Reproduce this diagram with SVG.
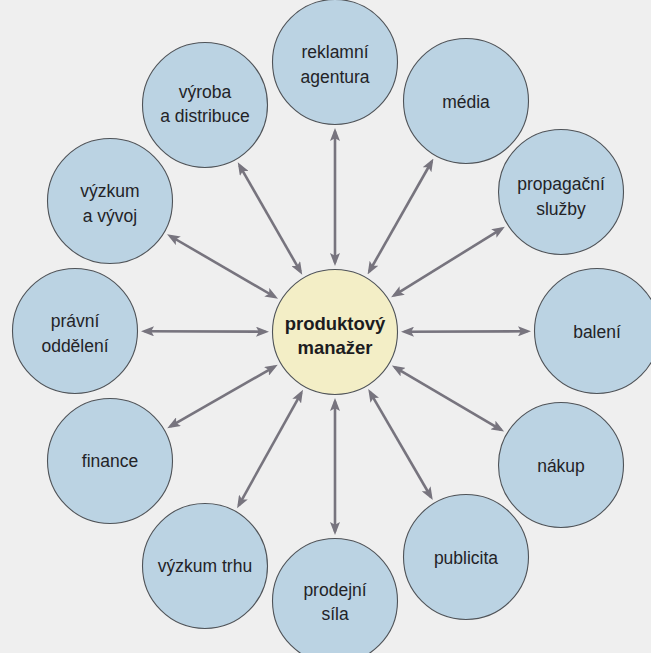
<svg xmlns="http://www.w3.org/2000/svg" width="651" height="653" viewBox="0 0 651 653">
  <defs>
    <style>
      .bg { fill: #efefef; }
      .dept { fill: #bbd3e3; stroke: #4f5358; stroke-width: 1.1; }
      .hub { fill: #f3eec6; stroke: #4f5358; stroke-width: 1.1; }
      .lbl { font-family: "Liberation Sans", Arial, sans-serif; font-size: 17.5px; fill: #232327; text-anchor: middle; }
      .hub-lbl { font-family: "Liberation Sans", Arial, sans-serif; font-size: 18.5px; font-weight: bold; fill: #1c1c1f; text-anchor: middle; }
      .link { stroke: #77747e; stroke-width: 2.6; fill: none; marker-start: url(#head); marker-end: url(#head); }
    </style>
    <marker id="head" viewBox="0 0 13 10" refX="9.5" refY="5" markerWidth="13" markerHeight="10" markerUnits="userSpaceOnUse" orient="auto-start-reverse">
      <path d="M0,0 L13,5 L0,10 L2.8,5 Z" fill="#77747e"/>
    </marker>
  </defs>

  <rect class="bg" x="0" y="0" width="651" height="653"/>

  <!-- connectors: hub to each department, arrowheads at both ends -->
  <g id="connectors">
    <line class="link" x1="335" y1="262.5" x2="335" y2="131.5"/>
    <line class="link" x1="369.3" y1="271.5" x2="431.7" y2="161.5"/>
    <line class="link" x1="394.1" y1="295.4" x2="501.9" y2="228.6"/>
    <line class="link" x1="404.5" y1="331.7" x2="527.5" y2="331.3"/>
    <line class="link" x1="394.9" y1="367.3" x2="501.1" y2="429.8"/>
    <line class="link" x1="370.0" y1="392.1" x2="431.0" y2="497.0"/>
    <line class="link" x1="335" y1="401.5" x2="335" y2="531.5"/>
    <line class="link" x1="301.3" y1="392.8" x2="238.8" y2="505.3"/>
    <line class="link" x1="274.7" y1="366.6" x2="170.3" y2="426.4"/>
    <line class="link" x1="265.5" y1="331.7" x2="144.5" y2="331.3"/>
    <line class="link" x1="275.0" y1="297.0" x2="170.1" y2="236.0"/>
    <line class="link" x1="300.5" y1="271.7" x2="239.5" y2="165.3"/>
  </g>

  <g id="produktovy-manazer">
    <circle class="hub" cx="335" cy="332" r="62.5"/>
    <text class="hub-lbl" x="335" y="330">produktový</text>
    <text class="hub-lbl" x="335" y="354">manažer</text>
  </g>

  <g id="reklamni-agentura">
    <circle class="dept" cx="335" cy="62" r="62.5"/>
    <text class="lbl" x="335" y="58">reklamní</text>
    <text class="lbl" x="335" y="83">agentura</text>
  </g>

  <g id="media">
    <circle class="dept" cx="466" cy="101" r="62.5"/>
    <text class="lbl" x="466" y="108">média</text>
  </g>

  <g id="propagacni-sluzby">
    <circle class="dept" cx="561" cy="192" r="62.5"/>
    <text class="lbl" x="561" y="190">propagační</text>
    <text class="lbl" x="561" y="215">služby</text>
  </g>

  <g id="baleni">
    <circle class="dept" cx="597" cy="331" r="62.5"/>
    <text class="lbl" x="597" y="338">balení</text>
  </g>

  <g id="nakup">
    <circle class="dept" cx="561" cy="465" r="62.5"/>
    <text class="lbl" x="561" y="472">nákup</text>
  </g>

  <g id="publicita">
    <circle class="dept" cx="466" cy="557" r="62.5"/>
    <text class="lbl" x="466" y="564">publicita</text>
  </g>

  <g id="prodejni-sila">
    <circle class="dept" cx="335" cy="601" r="62.5"/>
    <text class="lbl" x="335" y="596">prodejní</text>
    <text class="lbl" x="335" y="620">síla</text>
  </g>

  <g id="vyzkum-trhu">
    <circle class="dept" cx="205" cy="566" r="62.5"/>
    <text class="lbl" x="205" y="572">výzkum trhu</text>
  </g>

  <g id="finance">
    <circle class="dept" cx="110" cy="461" r="62.5"/>
    <text class="lbl" x="110" y="467">finance</text>
  </g>

  <g id="pravni-oddeleni">
    <circle class="dept" cx="75" cy="331" r="62.5"/>
    <text class="lbl" x="75" y="327">právní</text>
    <text class="lbl" x="75" y="352">oddělení</text>
  </g>

  <g id="vyzkum-a-vyvoj">
    <circle class="dept" cx="110" cy="201" r="62.5"/>
    <text class="lbl" x="110" y="197">výzkum</text>
    <text class="lbl" x="110" y="222">a vývoj</text>
  </g>

  <g id="vyroba-a-distribuce">
    <circle class="dept" cx="205" cy="105" r="62.5"/>
    <text class="lbl" x="205" y="98">výroba</text>
    <text class="lbl" x="205" y="122">a distribuce</text>
  </g>
</svg>
